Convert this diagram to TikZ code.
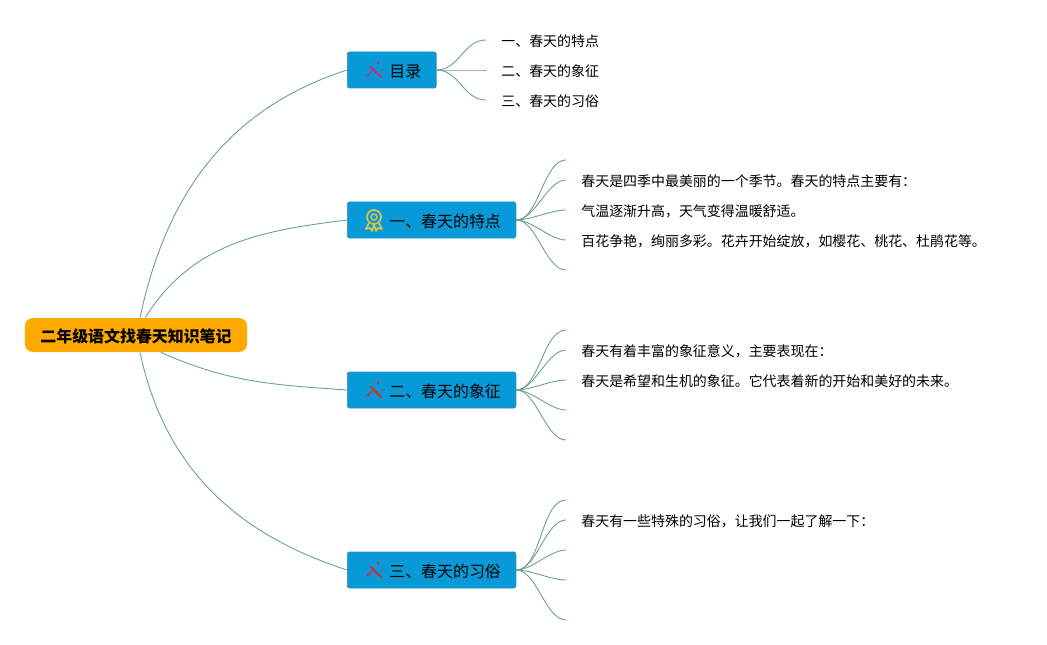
\documentclass[tikz,border=0pt]{standalone}
\usepackage{fontspec}
\setmainfont{Noto Sans CJK SC}
\definecolor{root_fill}{RGB}{255, 170, 0}
\definecolor{topic_fill}{RGB}{8, 154, 216}
\definecolor{topic_edge}{RGB}{36, 150, 180}
\definecolor{branch_line}{RGB}{105, 160, 145}
\definecolor{wand_pink}{RGB}{190, 50, 120}
\definecolor{wand_red}{RGB}{190, 55, 60}
\definecolor{medal_gold}{RGB}{214, 196, 70}
\tikzset{
  rootbox/.style={rectangle,rounded corners=8*0.02cm,fill=root_fill,inner xsep=15.5*0.02cm,
    minimum height=34*0.02cm,text height=0.32cm,text depth=0.036cm,
    font=\fontsize{9.07pt}{12pt}\selectfont\bfseries},
  topicbox/.style={rectangle,rounded corners=2*0.02cm,fill=topic_fill,draw=topic_edge,
    line width=0.4pt,inner xsep=15*0.02cm,minimum height=36*0.02cm,
    text height=0.32cm,text depth=0.036cm,
    font=\fontsize{9.07pt}{11pt}\selectfont},
  leaftext/.style={anchor=west,inner xsep=15*0.02cm,inner ysep=0pt,
    text height=0.28cm,text depth=0.028cm,
    font=\fontsize{7.94pt}{10pt}\selectfont},
  branch/.style={draw=branch_line,line width=0.5pt},
  wand/.style={line width=1pt,line cap=round}
}
\newcommand{\iconpad}{\hspace*{0.54cm}}
\begin{document}
\begin{tikzpicture}[x=0.02cm,y=-0.02cm]
  \useasboundingbox (0,0) rectangle (1047,645);
  \node [style=rootbox] (root) at (136,335) {二年级语文找春天知识笔记};
  \node [style=topicbox,anchor=west] (mulu) at (347,70) {\iconpad 目录};
  \node [style=topicbox,anchor=west] (tedian) at (347,220) {\iconpad 一、春天的特点};
  \node [style=topicbox,anchor=west] (xiangzheng) at (347,390) {\iconpad 二、春天的象征};
  \node [style=topicbox,anchor=west] (xisu) at (347,570) {\iconpad 三、春天的习俗};
  % main branches
  \draw [style=branch] (root.77) to [out=78, in=198, looseness=1] (mulu.west);
  \draw [style=branch] (root.62) to [out=58, in=187, looseness=1] (tedian.west);
  \draw [style=branch] (root.-35) to [out=-24, in=176, looseness=1] (xiangzheng.west);
  \draw [style=branch] (root.-77) to [out=-78, in=162, looseness=1] (xisu.west);
  % leaves of mulu
  \node [style=leaftext] (mulu1) at (486,40) {一、春天的特点};
  \node [style=leaftext] (mulu2) at (486,70) {二、春天的象征};
  \node [style=leaftext] (mulu3) at (486,100) {三、春天的习俗};
  \foreach \leaf in {mulu1,mulu2,mulu3}
    \draw [style=branch] (mulu.east) to [out=0, in=180] (\leaf.west);
  % leaves of tedian
  \coordinate (tedian0) at (566,160);
  \node [style=leaftext] (tedian1) at (566,180) {春天是四季中最美丽的一个季节。春天的特点主要有：};
  \node [style=leaftext] (tedian2) at (566,210) {气温逐渐升高，天气变得温暖舒适。};
  \node [style=leaftext] (tedian3) at (566,240) {百花争艳，绚丽多彩。花卉开始绽放，如樱花、桃花、杜鹃花等。};
  \coordinate (tedian4) at (566,270);
  \foreach \leaf in {tedian0,tedian1.west,tedian2.west,tedian3.west,tedian4}
    \draw [style=branch] (tedian.east) to [out=0, in=180, looseness=0.75] (\leaf);
  % leaves of xiangzheng
  \coordinate (xiangzheng0) at (566,330);
  \node [style=leaftext] (xiangzheng1) at (566,350) {春天有着丰富的象征意义，主要表现在：};
  \node [style=leaftext] (xiangzheng2) at (566,380) {春天是希望和生机的象征。它代表着新的开始和美好的未来。};
  \coordinate (xiangzheng3) at (566,410);
  \coordinate (xiangzheng4) at (566,440);
  \foreach \leaf in {xiangzheng0,xiangzheng1.west,xiangzheng2.west,xiangzheng3,xiangzheng4}
    \draw [style=branch] (xiangzheng.east) to [out=0, in=180, looseness=0.75] (\leaf);
  % leaves of xisu
  \coordinate (xisu0) at (566,500);
  \node [style=leaftext] (xisu1) at (566,520) {春天有一些特殊的习俗，让我们一起了解一下：};
  \coordinate (xisu2) at (566,550);
  \coordinate (xisu3) at (566,580);
  \coordinate (xisu4) at (566,620);
  \foreach \leaf in {xisu0,xisu1.west,xisu2,xisu3,xisu4}
    \draw [style=branch] (xisu.east) to [out=0, in=180, looseness=0.75] (\leaf);
  % icons
  \foreach \iconx/\icony/\iconcol in {375/70/wand_pink,375/390/wand_red,375/570/wand_red} {
    \draw [style=wand,draw=\iconcol,line width=1.3pt] (\iconx-4,\icony-3) -- (\iconx+6,\icony+7);
    \draw [style=wand,draw=\iconcol,line width=0.8pt] (\iconx-7,\icony+5) -- (\iconx-3,\icony+1);
    \fill [\iconcol] (\iconx-7,\icony+5) circle (1.6);
    \fill [\iconcol] (\iconx+3,\icony-7) circle (1.6);
    \fill [\iconcol!70!topic_fill] (\iconx+7,\icony) circle (1);
  }
  \draw [draw=medal_gold,line width=1pt] (374,217) circle (7);
  \draw [draw=medal_gold,line width=0.8pt] (374,217) circle (3);
  \draw [draw=medal_gold,line width=1pt,line join=round] (369,223) -- (366,229) -- (370,228) -- (372,231) -- (374,225) -- (376,231) -- (378,228) -- (382,229) -- (379,223);
\end{tikzpicture}
\end{document}
